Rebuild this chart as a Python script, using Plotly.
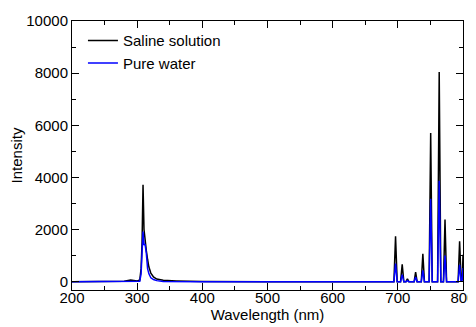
import plotly.graph_objects as go

wavelength = [200, 250, 280, 290, 300, 304, 306, 307.5, 309, 310.5, 312, 314, 316, 318, 321, 325, 330, 340, 360, 400, 500, 600, 650, 690,
              694, 696.5, 699,
              704.2, 706.7, 709.2,
              712.5, 714.7, 717,
              725, 727.3, 729.6,
              736, 738.4, 740.8,
              748, 750.4, 752.8,
              761, 763.5, 766,
              770, 772.4, 774.8,
              792.5, 794.8, 797.2,
              799, 800]

saline = [0, 0, 20, 60, 30, 60, 500, 1500, 3720, 2000, 1550, 1200, 850, 560, 330, 180, 100, 50, 30, 10, 0, 0, 10, 0,
          0, 1740, 0,
          0, 665, 0,
          0, 110, 0,
          0, 370, 0,
          0, 1070, 0,
          0, 5700, 0,
          0, 8040, 0,
          0, 2380, 0,
          0, 1550, 0,
          150, 1030]

water = [0, 0, 0, 0, 0, 20, 300, 1100, 1920, 1400, 1450, 1100, 500, 300, 150, 80, 40, 10, 0, 0, 0, 0, 0, 0,
         0, 690, 0,
         0, 270, 0,
         0, 40, 0,
         0, 180, 0,
         0, 430, 0,
         0, 3180, 0,
         0, 3870, 0,
         0, 1000, 0,
         0, 650, 0,
         80, 520]

series_names = ["Saline solution", "Pure water"]
series_colors = ["#000000", "#0000ff"]

fig = go.Figure()
for name, vals, col in zip(series_names, [saline, water], series_colors):
    fig.add_trace(go.Scatter(x=wavelength, y=vals, mode="lines", name=name,
                             line=dict(color=col, width=1.5)))

font = dict(family="Liberation Sans, Arial, sans-serif", size=15, color="#000")

axis_common = dict(showgrid=False, zeroline=False, showline=True, linecolor="#000", linewidth=1,
                   mirror="ticks", ticks="inside", ticklen=7, tickwidth=1, tickcolor="#000",
                   tickfont=font, tickformat="d", automargin=False)

fig.update_xaxes(range=[200, 800], dtick=100, tick0=200, ticklabelstandoff=-6,
                 minor=dict(ticks="inside", dtick=50, ticklen=4, tickwidth=1, tickcolor="#000", showgrid=False),
                 title=dict(text="Wavelength (nm)", font=font, standoff=0),
                 **axis_common)
fig.update_yaxes(range=[-320, 10000], dtick=2000, tick0=0,
                 minor=dict(ticks="inside", dtick=1000, ticklen=4, tickwidth=1, tickcolor="#000", showgrid=False),
                 title=dict(text="Intensity", font=font, standoff=0),
                 **axis_common)

fig.update_layout(
    width=468, height=319,
    margin=dict(l=64, r=13, t=13, b=37),
    paper_bgcolor="white", plot_bgcolor="white",
    font=font,
    showlegend=True,
    legend=dict(x=0.028, y=0.988, xanchor="left", yanchor="top", bgcolor="rgba(0,0,0,0)",
                borderwidth=0, font=font, tracegroupgap=0),
)

fig.write_html("out.html")
